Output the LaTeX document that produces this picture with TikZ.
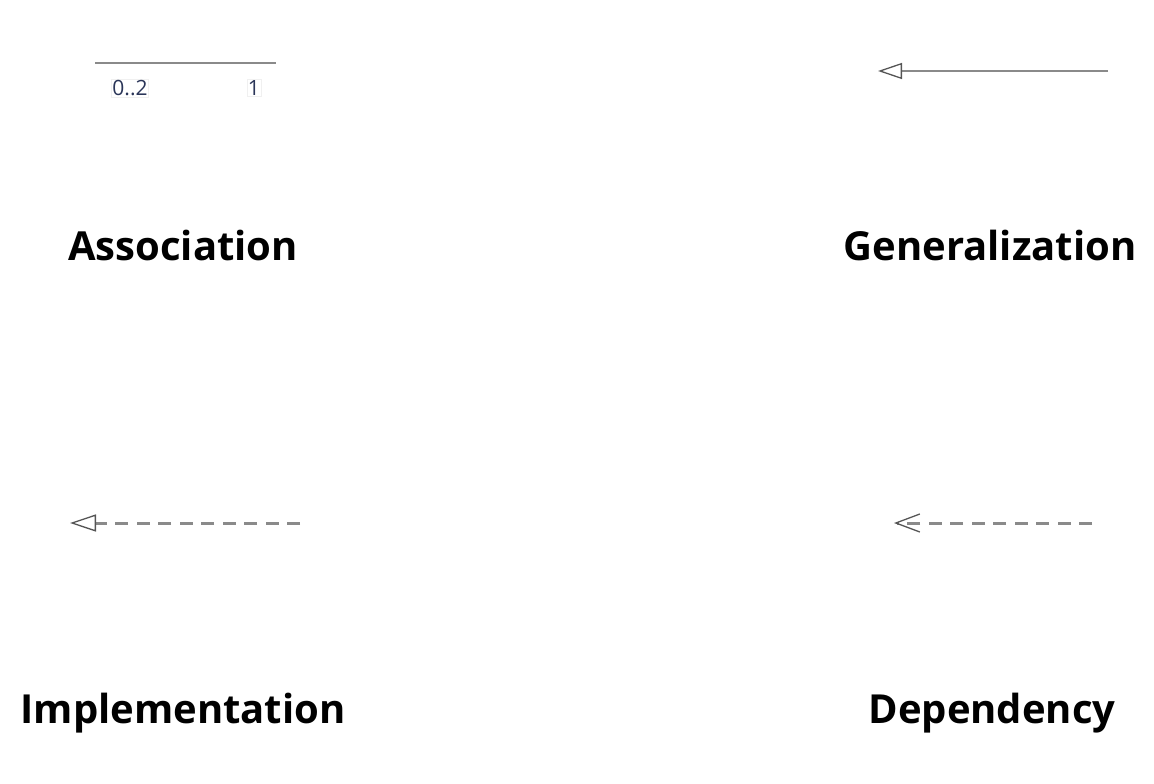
\documentclass[tikz,border=0pt]{standalone}
\usepackage{fontspec}
\setmainfont{Open Sans}
\usetikzlibrary{arrows.meta}
\definecolor{linegray}{HTML}{8A8A8A}
\definecolor{headgray}{HTML}{555555}
\definecolor{labnavy}{HTML}{2A3558}
\tikzset{
  title/.style={font=\fontsize{40}{44}\selectfont\bfseries, text=black, inner sep=0pt},
  mult/.style={font=\fontsize{21}{24}\selectfont, text=labnavy, draw=gray!12, fill=white, inner sep=1pt},
  conn/.style={draw=linegray, line width=1.5pt},
  dashedconn/.style={draw=linegray, line width=3pt, dash pattern=on 13pt off 8.5pt},
  tri/.style={-{Triangle[open, length=26pt, width=17pt, line width=1.3pt, color=headgray, fill=white]}},
  vee/.style={-{Straight Barb[length=24pt, width=18pt, line width=1.3pt, color=headgray]}},
}
\begin{document}
\begin{tikzpicture}[x=1pt, y=-1pt]
\useasboundingbox (0,0) rectangle (1154,784);
% Association
\coordinate (a1) at (95,63);
\coordinate (a2) at (276,63);
\draw[conn] (a1) -- (a2);
\node[mult] (m1) at (130,88) {0..2};
\node[mult] (m2) at (254,88) {1};
\node[title] (assoc) at (183,245) {Association};
% Generalization
\coordinate (g1) at (1108,71);
\coordinate (g2) at (878,71);
\draw[conn, -{Triangle[open, length=24pt, width=16pt, line width=1.3pt, color=headgray, fill=white]}] (g1) -- (g2);
\node[title] (gen) at (990,245) {Generalization};
% Implementation
\coordinate (i1) at (300,523);
\coordinate (i2) at (70,523);
\draw[dashedconn, tri] (i1) -- (i2);
\node[title] (impl) at (183,713) {Implementation};
% Dependency
\coordinate (d1) at (1092,523);
\coordinate (d2) at (894,523);
\draw[dashedconn, vee] (d1) -- (d2);
\node[title] (dep) at (992,713) {Dependency};
\end{tikzpicture}
\end{document}
